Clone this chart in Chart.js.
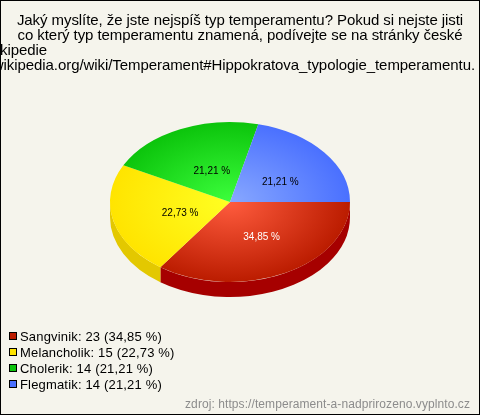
<!DOCTYPE html>
<html>
<head>
<meta charset="utf-8">
<style>
  html, body { margin: 0; padding: 0; background: #f5f4ec; }
  #wrap { position: relative; width: 480px; height: 415px; }
</style>
<script src="https://cdn.jsdelivr.net/npm/chart.js@4"></script>
</head>
<body>
<div id="wrap"><canvas id="pie" width="480" height="415"></canvas></div>
<script>
const categories = ['Sangvinik', 'Melancholik', 'Cholerik', 'Flegmatik'];
const counts = [23, 15, 14, 14];
const percentLabels = ['34,85 %', '22,73 %', '21,21 %', '21,21 %'];
const titleLines = [
    'Jaký myslíte, že jste nejspíš typ temperamentu? Pokud si nejste jisti',
    'co který typ temperamentu znamená, podívejte se na stránky české',
    'kipedie',
    'wikipedia.org/wiki/Temperament#Hippokratova_typologie_temperamentu.'
];
const sourceText = 'zdroj: https://temperament-a-nadprirozeno.vyplnto.cz';

// center / edge of the slice gradients, then the side wall and legend box
const centerColors = ['#ff5c3e', '#ffff22', '#3cff3c', '#88a8ff'];
const edgeColors = ['#bb1c00', '#ffe400', '#0cc40c', '#4a70ff'];
const wallColors = ['#a60000', '#e3c800', '#0a9a0a', '#3a58cc'];
const labelColors = ['#ffffff', '#000000', '#000000', '#000000'];

const squash = 2 / 3;
const depth = 15;
const font = 'Liberation Sans, Arial, sans-serif';

const piePlugin = {
    id: 'pie3d',
    beforeDraw(chart) {
        const ctx = chart.ctx;
        ctx.save();
        ctx.fillStyle = '#f5f4ec';
        ctx.fillRect(0, 0, chart.width, chart.height);
        ctx.restore();
    },
    beforeDatasetDraw(chart) {
        const ctx = chart.ctx;
        const arcs = chart.getDatasetMeta(0).data;
        // side wall of the front half
        arcs.forEach((el, i) => {
            const a0 = Math.max(el.startAngle, 0);
            const a1 = Math.min(el.endAngle, Math.PI);
            if (a1 <= a0) return;
            const r = el.outerRadius;
            const ry = r * squash;
            ctx.save();
            ctx.fillStyle = wallColors[i];
            ctx.beginPath();
            ctx.ellipse(el.x, el.y, r, ry, 0, a0, a1);
            ctx.ellipse(el.x, el.y + depth, r, ry, 0, a1, a0, true);
            ctx.closePath();
            ctx.fill();
            ctx.restore();
        });
        const el = arcs[0];
        ctx.save();
        ctx.translate(el.x, el.y);
        ctx.scale(1, squash);
        ctx.translate(-el.x, -el.y);
    },
    afterDatasetDraw(chart) {
        const ctx = chart.ctx;
        ctx.restore();
        // percent labels on the slices
        const arcs = chart.getDatasetMeta(0).data;
        ctx.save();
        ctx.font = '10px ' + font;
        ctx.textAlign = 'center';
        ctx.textBaseline = 'middle';
        arcs.forEach((el, i) => {
            const mid = (el.startAngle + el.endAngle) / 2;
            const x = el.x + Math.cos(mid) * el.outerRadius * 0.475 + 5.5;
            const y = el.y + Math.sin(mid) * el.outerRadius * squash * 0.46 + 3;
            ctx.fillStyle = labelColors[i];
            ctx.fillText(percentLabels[i], x, y);
        });
        ctx.restore();
    },
    afterDraw(chart) {
        const ctx = chart.ctx;
        ctx.save();
        ctx.textBaseline = 'alphabetic';

        // outer frame
        ctx.strokeStyle = '#000000';
        ctx.lineWidth = 1;
        ctx.strokeRect(0.5, 0.5, chart.width - 1, chart.height - 1);

        // title
        ctx.fillStyle = '#000000';
        ctx.font = '15px ' + font;
        ctx.letterSpacing = '-0.07px';
        ctx.textAlign = 'center';
        ctx.fillText(titleLines[0], 240, 25);
        ctx.fillText(titleLines[1], 240, 40);
        ctx.textAlign = 'left';
        ctx.fillText(titleLines[2], 0, 55);
        ctx.textAlign = 'right';
        ctx.fillText(titleLines[3], 475, 70);

        // legend
        ctx.textAlign = 'left';
        ctx.font = '13px ' + font;
        ctx.letterSpacing = '0.17px';
        categories.forEach((name, i) => {
            const y = 332 + i * 16;
            ctx.fillStyle = edgeColors[i];
            ctx.fillRect(9, y, 8, 8);
            ctx.strokeStyle = '#000000';
            ctx.lineWidth = 1;
            ctx.strokeRect(9.5, y + 0.5, 7, 7);
            ctx.fillStyle = '#000000';
            ctx.fillText(name + ': ' + counts[i] + ' (' + percentLabels[i] + ')', 20, y + 9);
        });

        // source note
        ctx.fillStyle = '#8c8c8c';
        ctx.font = '12px ' + font;
        ctx.letterSpacing = '0.08px';
        ctx.textAlign = 'right';
        ctx.fillText(sourceText, 470, 408);
        ctx.restore();
    }
};

new Chart(document.getElementById('pie'), {
    type: 'pie',
    data: {
        labels: categories,
        datasets: [{
            data: counts,
            borderWidth: 0,
            backgroundColor: function(context) {
                const area = context.chart.chartArea;
                if (!area) return edgeColors[context.dataIndex];
                const cx = (area.left + area.right) / 2;
                const cy = (area.top + area.bottom) / 2;
                const r = (area.right - area.left) / 2;
                const g = context.chart.ctx.createRadialGradient(cx, cy, 0, cx, cy, r);
                g.addColorStop(0, centerColors[context.dataIndex]);
                g.addColorStop(1, edgeColors[context.dataIndex]);
                return g;
            }
        }]
    },
    options: {
        responsive: false,
        animation: false,
        rotation: 90,
        layout: { padding: { left: 110, right: 130, top: 82, bottom: 93 } },
        plugins: {
            legend: { display: false },
            tooltip: { enabled: false }
        }
    },
    plugins: [piePlugin]
});
</script>
</body>
</html>
